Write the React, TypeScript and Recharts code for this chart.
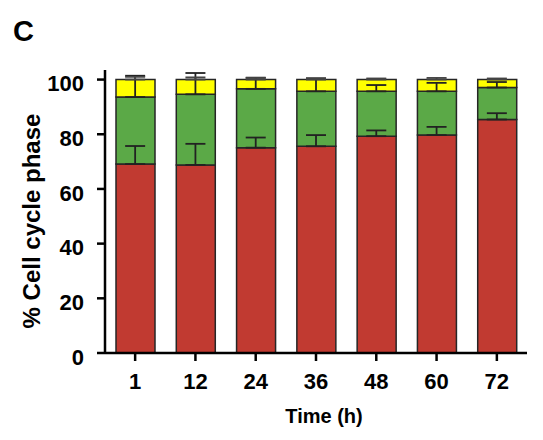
import React from 'react';
import { ComposedChart, Bar, Line, XAxis, YAxis, ErrorBar } from 'recharts';

const categories = ['1', '12', '24', '36', '48', '60', '72'];
const g1Values = [69.1, 68.8, 75.1, 75.6, 79.3, 79.7, 85.4];
const sValues = [24.5, 25.8, 21.5, 20.1, 16.4, 16.0, 11.7];
const g2mValues = [6.4, 5.4, 3.4, 4.3, 4.3, 4.3, 2.9];
const g1Sd = [6.6, 7.7, 3.7, 4.1, 2.1, 3.0, 2.3];
const sSd = [7.8, 7.8, 4.1, 4.7, 2.3, 3.1, 2.0];
const g2mSd = [1.0, 0.8, 0.6, 0.5, 0.4, 0.6, 0.4];
const yTicks = [0, 20, 40, 60, 80, 100];

const data = categories.map((time, i) => ({
  time,
  g1: g1Values[i],
  s: sValues[i],
  g2m: g2mValues[i],
  g1Top: g1Values[i],
  sTop: g1Values[i] + sValues[i],
  g2mTop: g1Values[i] + sValues[i] + g2mValues[i],
  g1Err: [0, g1Sd[i]],
  sErr: [0, sSd[i]],
  g2mErr: [0, g2mSd[i]],
}));

const FONT = '"Liberation Sans", Arial, Helvetica, sans-serif';
const RED = '#C13A31';
const GREEN = '#5BA947';
const YELLOW = '#FFFF00';
const EDGE = '#262626';

const YLabel = () => (
  <text
    transform="translate(40, 221) rotate(-90)"
    textAnchor="middle"
    fontFamily={FONT}
    fontWeight="bold"
    fontSize={24}
    fill="#000"
  >
    % Cell cycle phase
  </text>
);

const XLabel = () => (
  <text
    x={324}
    y={423}
    textAnchor="middle"
    fontFamily={FONT}
    fontWeight="bold"
    fontSize={20}
    fill="#000"
  >
    Time (h)
  </text>
);

export default function App() {
  return (
    <div style={{ position: 'absolute', left: 0, top: 0, width: 543, height: 440, background: '#fff' }}>
      <div
        style={{
          position: 'absolute',
          left: 13,
          top: 17,
          fontFamily: FONT,
          fontWeight: 'bold',
          fontSize: 29,
          lineHeight: '29px',
          color: '#000',
        }}
      >
        C
      </div>
      <ComposedChart
        width={543}
        height={440}
        data={data}
        margin={{ top: 70, right: 16, bottom: 0, left: 0 }}
      >
        <XAxis
          dataKey="time"
          height={87}
          tickSize={8}
          tickMargin={12}
          axisLine={{ stroke: '#000', strokeWidth: 2.5 }}
          tickLine={{ stroke: '#000', strokeWidth: 2.5 }}
          tick={{ fontSize: 22, fontWeight: 'bold', fill: '#000', fontFamily: FONT }}
          interval={0}
          label={{ content: () => <XLabel /> }}
        />
        <YAxis
          width={105}
          domain={[0, 103.5]}
          ticks={yTicks}
          interval={0}
          tickSize={8}
          tickMargin={13}
          axisLine={{ stroke: '#000', strokeWidth: 2.5 }}
          tickLine={{ stroke: '#000', strokeWidth: 2.5 }}
          tick={{ fontSize: 22, fontWeight: 'bold', fill: '#000', fontFamily: FONT, dy: 4 }}
          allowDataOverflow
          label={{ content: () => <YLabel /> }}
        />
        <Bar dataKey="g1" name="G0/G1" stackId="a" fill={RED} stroke={EDGE} strokeWidth={1.5} barSize={39} isAnimationActive={false} />
        <Bar dataKey="s" name="S" stackId="a" fill={GREEN} stroke={EDGE} strokeWidth={1.5} barSize={39} isAnimationActive={false} />
        <Bar dataKey="g2m" name="G2/M" stackId="a" fill={YELLOW} stroke={EDGE} strokeWidth={1.5} barSize={39} isAnimationActive={false} />
        <Line dataKey="g1Top" stroke="none" dot={false} activeDot={false} legendType="none" isAnimationActive={false}>
          <ErrorBar dataKey="g1Err" width={10} stroke="#222" strokeWidth={1.8} direction="y" />
        </Line>
        <Line dataKey="sTop" stroke="none" dot={false} activeDot={false} legendType="none" isAnimationActive={false}>
          <ErrorBar dataKey="sErr" width={10} stroke="#222" strokeWidth={1.8} direction="y" />
        </Line>
        <Line dataKey="g2mTop" stroke="none" dot={false} activeDot={false} legendType="none" isAnimationActive={false}>
          <ErrorBar dataKey="g2mErr" width={10} stroke="#444" strokeWidth={1.8} direction="y" />
        </Line>
      </ComposedChart>
    </div>
  );
}
